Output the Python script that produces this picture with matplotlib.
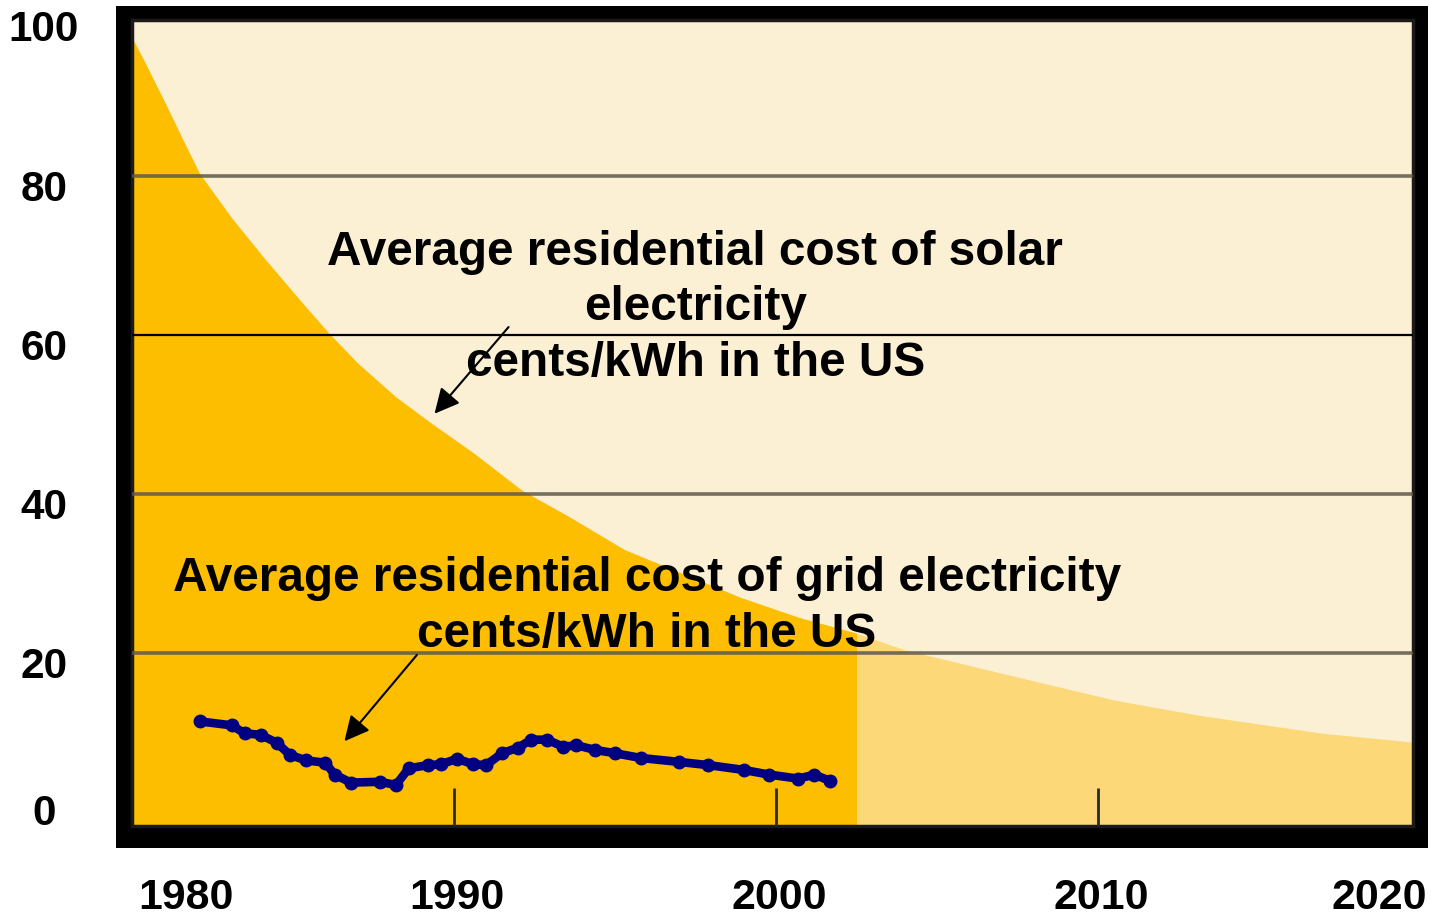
import numpy as np
import matplotlib
matplotlib.use("Agg")
import matplotlib.pyplot as plt
import matplotlib.transforms as mtransforms
from matplotlib.patches import Rectangle

# =============================================
# DATA
# =============================================

# Solar electricity cost, cents/kWh
solar_years = [1980.0, 1980.4, 1981.1, 1981.6, 1982.1, 1983.1, 1984.1, 1985.3,
               1986.1, 1987.0, 1988.2, 1989.3, 1990.6, 1992.1, 1993.6, 1995.3,
               1997.1, 1998.9, 2000.7, 2002.5, 2004.0, 2007.9, 2010.5, 2013.1,
               2017.0, 2019.8]
solar_cost = [97.4, 94.3, 88.6, 84.4, 80.3, 74.7, 69.7, 64.0,
              60.3, 56.5, 52.2, 48.9, 45.2, 40.5, 37.1, 33.0,
              30.0, 27.0, 24.5, 22.5, 20.4, 16.6, 14.1, 12.2,
              9.9, 8.8]

# year where the historical (dark) part of the solar area ends
solar_actual_end = 2002.5

# Grid electricity cost, cents/kWh
grid_years = [1982.1, 1983.1, 1983.5, 1984.0, 1984.5, 1984.9, 1985.4, 1986.0,
              1986.3, 1986.8, 1987.7, 1988.2, 1988.6, 1989.2, 1989.6, 1990.1,
              1990.6, 1991.0, 1991.5, 1992.0, 1992.4, 1992.9, 1993.4, 1993.8,
              1994.4, 1995.0, 1995.8, 1997.0, 1997.9, 1999.0, 1999.8, 2000.7,
              2001.2, 2001.7]
grid_cost = [11.4, 10.9, 9.9, 9.7, 8.7, 7.2, 6.5, 6.2,
             4.7, 3.7, 3.8, 3.4, 5.5, 5.9, 6.0, 6.7,
             6.0, 5.9, 7.4, 8.1, 9.1, 9.1, 8.2, 8.4,
             7.8, 7.4, 6.8, 6.3, 5.9, 5.3, 4.7, 4.2,
             4.7, 3.9]

y_ticks = [0, 20, 40, 60, 80, 100]
x_ticks = [1980, 1990, 2000, 2010, 2020]
grid_levels = [20, 40, 60, 80]

solar_label = "Average residential cost of solar\nelectricity\ncents/kWh in the US"
grid_label = "Average residential cost of grid electricity\ncents/kWh in the US"

# Colors
cream = '#FCF0D4'
dark_orange = '#FDBE00'
light_orange = '#FCD879'
navy = '#000080'

plt.rcParams['font.family'] = ['Liberation Sans', 'DejaVu Sans']
plt.rcParams['font.weight'] = 'bold'

# =============================================
# FIGURE
# =============================================

W, H = 1431, 917
fig = plt.figure(figsize=(W / 100, H / 100), dpi=100)
fig.patch.set_facecolor('white')

# thick black frame around the plot area
frame = Rectangle((116 / W, 1 - 848 / H), (1428 - 116) / W, (848 - 6) / H,
                  transform=fig.transFigure, facecolor='black',
                  edgecolor='none', zorder=-5)
fig.patches.append(frame)

ax = fig.add_axes([132 / W, 1 - 826 / H, (1413 - 132) / W, (826 - 20) / H])
ax.set_zorder(1)
ax.set_facecolor(cream)
ax.set_xlim(1980.0, 2019.8)
ax.set_ylim(-1.76, 99.62)
ax.set_xticks([])
ax.set_yticks([])
for sp in ax.spines.values():
    sp.set_color('#1a1a1a')
    sp.set_linewidth(2.5)

# solar area: light everywhere, dark part clipped to the actual years
ax.fill_between(solar_years, -10, solar_cost, color=light_orange, lw=0, zorder=1)
dark = ax.fill_between(solar_years, -10, solar_cost, color=dark_orange, lw=0, zorder=2)
x0 = ax.get_xlim()[0]
clip = Rectangle((x0, 0), solar_actual_end - x0, 1,
                 transform=mtransforms.blended_transform_factory(ax.transData, ax.transAxes))
dark.set_clip_path(clip)

# horizontal grid lines
for lv in grid_levels:
    if lv == 60:
        ax.axhline(lv, color='black', lw=1.6, zorder=3)
    else:
        ax.axhline(lv, color='#5e5848', lw=2.6, alpha=0.85, zorder=3)

# short tick marks at the bottom
ax.vlines(x_ticks[1:4], -5, 3.0, color='#2a2a2a', lw=2, zorder=3)

# grid electricity line
ax.plot(grid_years, grid_cost, color=navy, lw=6.2, solid_capstyle='round',
        solid_joinstyle='round', zorder=5)
ax.plot(grid_years, grid_cost, 'o', color=navy, ms=9, zorder=5)

# =============================================
# TEXT + ARROWS
# =============================================

ax.text(1997.5, 63.4, solar_label, ha='center', va='center', multialignment='center',
        fontsize=34.4, fontweight='bold', linespacing=1.31, zorder=6)
ax.text(1996.0, 25.85, grid_label, ha='center', va='center', multialignment='center',
        fontsize=34.4, fontweight='bold', linespacing=1.31, zorder=6)

arrow = dict(arrowstyle='-|>', color='black', lw=1.5, mutation_scale=38, shrinkA=0, shrinkB=0)
ax.annotate('', xy=(1989.4, 50.1), xytext=(1991.7, 61.0), arrowprops=arrow, zorder=7)
ax.annotate('', xy=(1986.6, 8.9), xytext=(1988.85, 19.75), arrowprops=arrow, zorder=7)

# tick labels drawn as text outside the frame
ytr = mtransforms.blended_transform_factory(fig.transFigure, ax.transData)
for v in y_ticks:
    yy = v - 1.7 if v > 0 else v - 0.2
    ax.text(44 / W, yy, str(v), transform=ytr, ha='center', va='center',
            fontsize=30.4, fontweight='bold', clip_on=False)

xtr = mtransforms.blended_transform_factory(ax.transData, fig.transFigure)
for i, yr in enumerate(x_ticks):
    if i == 0:
        ax.text(yr + 0.2, 1 - 898 / H, str(yr), transform=xtr, ha='left', va='center',
                fontsize=30.8, fontweight='bold', clip_on=False)
    elif i == len(x_ticks) - 1:
        ax.text(yr + 0.25, 1 - 898 / H, str(yr), transform=xtr, ha='right', va='center',
                fontsize=30.8, fontweight='bold', clip_on=False)
    else:
        ax.text(yr + 0.1, 1 - 898 / H, str(yr), transform=xtr, ha='center', va='center',
                fontsize=30.8, fontweight='bold', clip_on=False)

fig.savefig('out.png', dpi=100, facecolor='white')
plt.close(fig)
